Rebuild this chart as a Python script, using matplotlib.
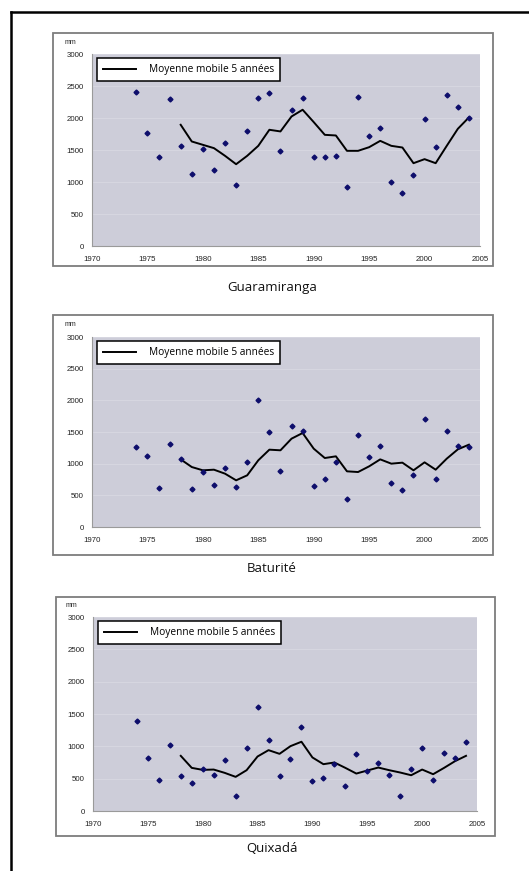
import matplotlib
matplotlib.use("Agg")
import matplotlib.pyplot as plt
from matplotlib.patches import Rectangle
from matplotlib.lines import Line2D

# ---------------- data ----------------
years = list(range(1974, 2005))
ma_years = list(range(1978, 2005))

station_names = ["Guaramiranga", "Baturité", "Quixadá"]

guara_pts = [2400, 1763, 1398, 2301, 1555, 1127, 1513, 1190, 1617, 955, 1790, 2317, 2390, 1487,
             2129, 2306, 1398, 1398, 1409, 929, 2327, 1717, 1837, 1002, 824, 1111, 1977, 1550,
             2353, 2165, 2003]
guara_ma = [1894, 1633, 1581, 1529, 1409, 1278, 1409, 1565, 1816, 1790, 2024, 2129, 1936, 1737,
            1727, 1487, 1487, 1544, 1643, 1565, 1539, 1294, 1357, 1294, 1565, 1831, 2009]

batu_pts = [1263, 1121, 616, 1305, 1079, 600, 868, 668, 937, 626, 1021, 2000, 1505, 884, 1595,
            1516, 642, 758, 1032, 437, 1453, 1100, 1284, 695, 579, 816, 1705, 763, 1516, 1284,
            1263]
batu_ma = [1068, 947, 895, 905, 842, 737, 816, 1053, 1221, 1211, 1395, 1484, 1237, 1089, 1116,
           879, 868, 958, 1068, 1000, 1016, 895, 1021, 905, 1079, 1226, 1300]

quix_pts = [1397, 822, 486, 1014, 538, 440, 647, 559, 786, 233, 967, 1614, 1102, 543, 802, 1298,
            466, 517, 724, 388, 879, 626, 745, 564, 233, 652, 978, 476, 900, 812, 1060]
quix_ma = [853, 667, 636, 641, 590, 528, 631, 843, 941, 884, 1003, 1071, 828, 724, 750, 667, 579,
           626, 672, 631, 595, 553, 641, 569, 667, 771, 853]

x_ticks = [1970, 1975, 1980, 1985, 1990, 1995, 2000, 2005]
y_ticks = [0, 500, 1000, 1500, 2000, 2500, 3000]
legend_label = "Moyenne mobile 5 années"
unit_label = "mm"

series_pts = [guara_pts, batu_pts, quix_pts]
series_ma = [guara_ma, batu_ma, quix_ma]

# ---------------- layout (pixels) ----------------
W, H = 529, 871
fig = plt.figure(figsize=(W / 100, H / 100), dpi=100)
fig.patch.set_facecolor("white")

def fx(px):
    return px / W

def fy(py):
    return 1 - py / H

# (plot left, right, top, bottom), (box left, top, right, bottom), title center y
panels = [
    ((92, 480, 54, 246), (53, 33, 493, 266), 287),
    ((92, 480, 337, 527), (53, 315, 493, 555), 568),
    ((93, 477, 617, 811), (56, 597, 495, 836), 848),
]

title_font = ["Open Sans", "DejaVu Sans"]
tick_font = ["Liberation Sans", "DejaVu Sans"]

for i, ((l, r, t, b), (bl, bt, br, bb), ty) in enumerate(panels):
    # outer grey frame of each chart
    fig.patches.append(Rectangle((fx(bl), fy(bb)), fx(br - bl), (bb - bt) / H,
                                 transform=fig.transFigure, fill=False,
                                 edgecolor="#7d7d7d", linewidth=1.3))
    ax = fig.add_axes([fx(l), fy(b), fx(r - l), (b - t) / H])
    ax.set_facecolor("#cdcdd9")
    ax.set_xlim(1970, 2005)
    ax.set_ylim(0, 3000)
    ax.set_xticks(x_ticks)
    ax.set_yticks(y_ticks)
    ax.grid(axis="y", color="#d8d8e2", linewidth=0.6)
    ax.set_axisbelow(True)
    for s in ["top", "right"]:
        ax.spines[s].set_visible(False)
    for s in ["left", "bottom"]:
        ax.spines[s].set_color("#9a9a9a")
        ax.spines[s].set_linewidth(0.8)
    ax.tick_params(axis="both", length=0, labelsize=5.7, colors="#222222")
    ax.tick_params(axis="y", pad=6)
    ax.tick_params(axis="x", pad=7)
    for lab in ax.get_xticklabels() + ax.get_yticklabels():
        lab.set_family(tick_font)

    ax.plot(ma_years, series_ma[i], color="black", linewidth=1.4, zorder=3,
            label=legend_label)
    ax.plot(years, series_pts[i], linestyle="none", marker="D", markersize=2.5,
            color="#0d0d6b", markeredgecolor="#0d0d6b", zorder=4)

    leg = ax.legend(loc="upper left", bbox_to_anchor=(5 / (r - l), 1 - 4 / (b - t)),
                    borderaxespad=0, frameon=True, fancybox=False,
                    handlelength=3.2, handletextpad=1.3, borderpad=0.6,
                    prop={"family": title_font, "size": 7.3})
    leg.get_frame().set_edgecolor("black")
    leg.get_frame().set_linewidth(1.1)
    leg.get_frame().set_facecolor("white")
    leg.get_frame().set_alpha(1)

    # unit label
    fig.text(fx(l - 22), fy(t - 12), unit_label, fontsize=5, ha="center", va="center",
             family=tick_font, color="#222222")

    # station name
    fig.text(fx(272), fy(ty), station_names[i], fontsize=9.5, ha="center", va="center",
             family=title_font, color="#111111")

# outer black frame (top and left edges visible)
fig.lines.append(Line2D([fx(11), 1.0], [fy(12), fy(12)], transform=fig.transFigure,
                        color="black", linewidth=1.8))
fig.lines.append(Line2D([fx(11), fx(11)], [fy(12), 0.0], transform=fig.transFigure,
                        color="black", linewidth=1.8))

fig.savefig("out.png", dpi=100)
